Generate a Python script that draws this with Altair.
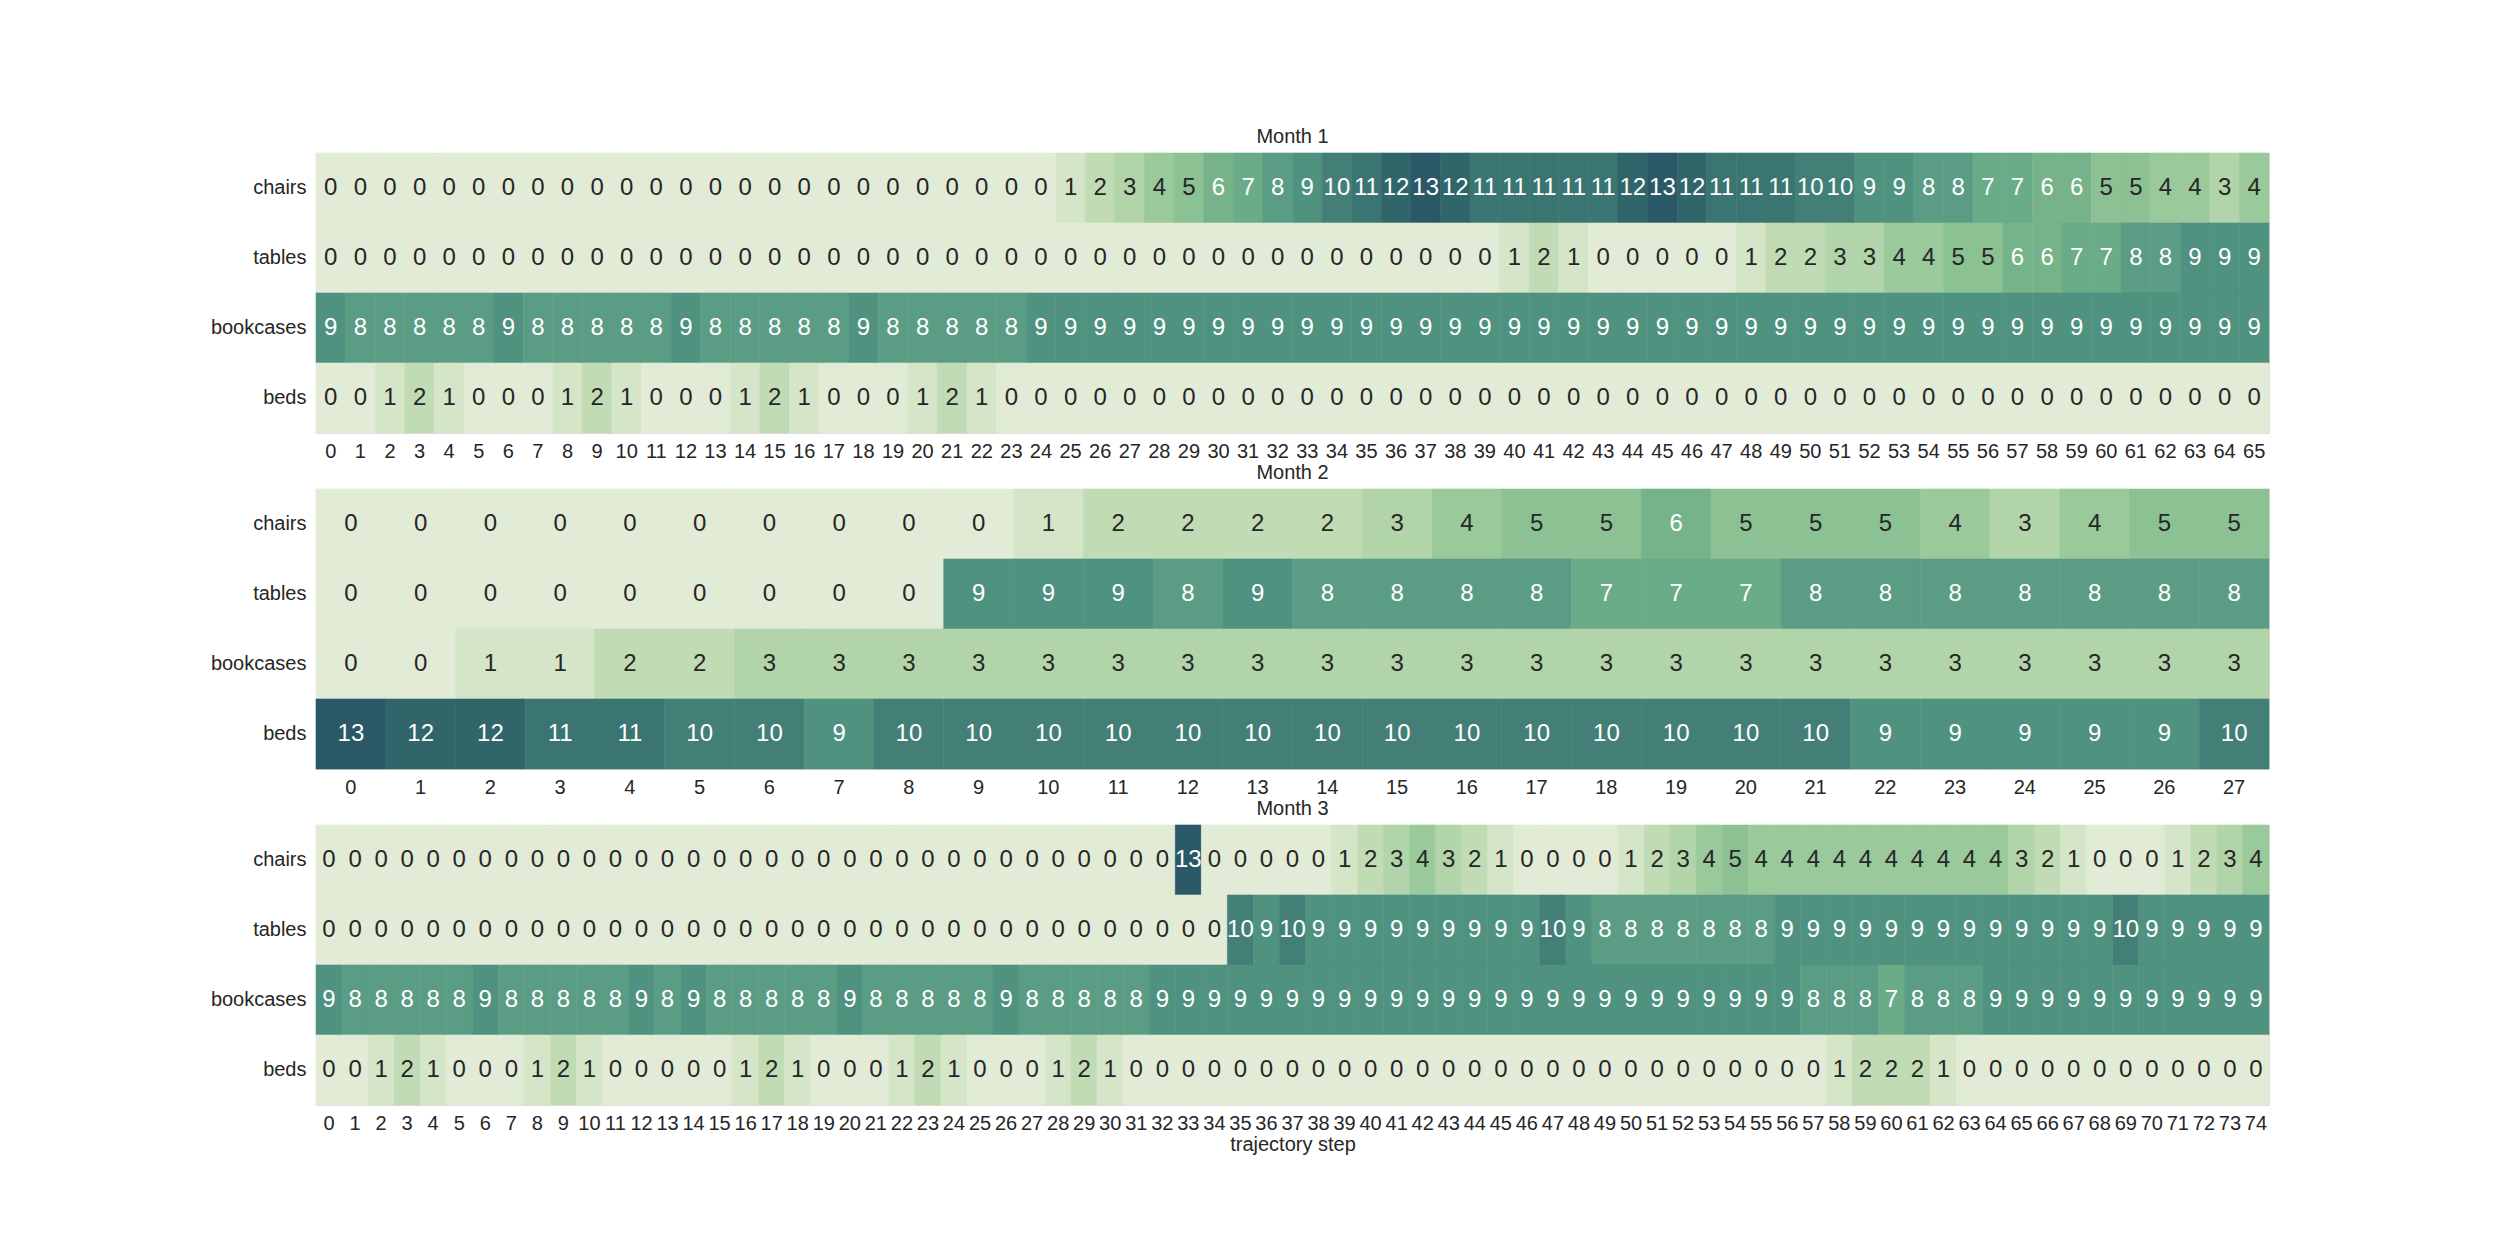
import altair as alt
import pandas as pd

items = ["chairs", "tables", "bookcases", "beds"]
months = ["Month 1", "Month 2", "Month 3"]

# ---------------- Month 1 (steps 0..65) ----------------
m1_chairs = [0, 0, 0, 0, 0, 0, 0, 0, 0, 0,
             0, 0, 0, 0, 0, 0, 0, 0, 0, 0,
             0, 0, 0, 0, 0, 1, 2, 3, 4, 5,
             6, 7, 8, 9, 10, 11, 12, 13, 12, 11,
             11, 11, 11, 11, 12, 13, 12, 11, 11, 11,
             10, 10, 9, 9, 8, 8, 7, 7, 6, 6,
             5, 5, 4, 4, 3, 4]
m1_tables = [0, 0, 0, 0, 0, 0, 0, 0, 0, 0,
             0, 0, 0, 0, 0, 0, 0, 0, 0, 0,
             0, 0, 0, 0, 0, 0, 0, 0, 0, 0,
             0, 0, 0, 0, 0, 0, 0, 0, 0, 0,
             1, 2, 1, 0, 0, 0, 0, 0, 1, 2,
             2, 3, 3, 4, 4, 5, 5, 6, 6, 7,
             7, 8, 8, 9, 9, 9]
m1_bookcases = [9, 8, 8, 8, 8, 8, 9, 8, 8, 8,
                8, 8, 9, 8, 8, 8, 8, 8, 9, 8,
                8, 8, 8, 8, 9, 9, 9, 9, 9, 9,
                9, 9, 9, 9, 9, 9, 9, 9, 9, 9,
                9, 9, 9, 9, 9, 9, 9, 9, 9, 9,
                9, 9, 9, 9, 9, 9, 9, 9, 9, 9,
                9, 9, 9, 9, 9, 9]
m1_beds = [0, 0, 1, 2, 1, 0, 0, 0, 1, 2,
           1, 0, 0, 0, 1, 2, 1, 0, 0, 0,
           1, 2, 1, 0, 0, 0, 0, 0, 0, 0,
           0, 0, 0, 0, 0, 0, 0, 0, 0, 0,
           0, 0, 0, 0, 0, 0, 0, 0, 0, 0,
           0, 0, 0, 0, 0, 0, 0, 0, 0, 0,
           0, 0, 0, 0, 0, 0]

# ---------------- Month 2 (steps 0..27) ----------------
m2_chairs = [0, 0, 0, 0, 0, 0, 0, 0, 0, 0,
             1, 2, 2, 2, 2, 3, 4, 5, 5, 6,
             5, 5, 5, 4, 3, 4, 5, 5]
m2_tables = [0, 0, 0, 0, 0, 0, 0, 0, 0, 9,
             9, 9, 8, 9, 8, 8, 8, 8, 7, 7,
             7, 8, 8, 8, 8, 8, 8, 8]
m2_bookcases = [0, 0, 1, 1, 2, 2, 3, 3, 3, 3,
                3, 3, 3, 3, 3, 3, 3, 3, 3, 3,
                3, 3, 3, 3, 3, 3, 3, 3]
m2_beds = [13, 12, 12, 11, 11, 10, 10, 9, 10, 10,
           10, 10, 10, 10, 10, 10, 10, 10, 10, 10,
           10, 10, 9, 9, 9, 9, 9, 10]

# ---------------- Month 3 (steps 0..74) ----------------
m3_chairs = [0, 0, 0, 0, 0, 0, 0, 0, 0, 0,
             0, 0, 0, 0, 0, 0, 0, 0, 0, 0,
             0, 0, 0, 0, 0, 0, 0, 0, 0, 0,
             0, 0, 0, 13, 0, 0, 0, 0, 0, 1,
             2, 3, 4, 3, 2, 1, 0, 0, 0, 0,
             1, 2, 3, 4, 5, 4, 4, 4, 4, 4,
             4, 4, 4, 4, 4, 3, 2, 1, 0, 0,
             0, 1, 2, 3, 4]
m3_tables = [0, 0, 0, 0, 0, 0, 0, 0, 0, 0,
             0, 0, 0, 0, 0, 0, 0, 0, 0, 0,
             0, 0, 0, 0, 0, 0, 0, 0, 0, 0,
             0, 0, 0, 0, 0, 10, 9, 10, 9, 9,
             9, 9, 9, 9, 9, 9, 9, 10, 9, 8,
             8, 8, 8, 8, 8, 8, 9, 9, 9, 9,
             9, 9, 9, 9, 9, 9, 9, 9, 9, 10,
             9, 9, 9, 9, 9]
m3_bookcases = [9, 8, 8, 8, 8, 8, 9, 8, 8, 8,
                8, 8, 9, 8, 9, 8, 8, 8, 8, 8,
                9, 8, 8, 8, 8, 8, 9, 8, 8, 8,
                8, 8, 9, 9, 9, 9, 9, 9, 9, 9,
                9, 9, 9, 9, 9, 9, 9, 9, 9, 9,
                9, 9, 9, 9, 9, 9, 9, 8, 8, 8,
                7, 8, 8, 8, 9, 9, 9, 9, 9, 9,
                9, 9, 9, 9, 9]
m3_beds = [0, 0, 1, 2, 1, 0, 0, 0, 1, 2,
           1, 0, 0, 0, 0, 0, 1, 2, 1, 0,
           0, 0, 1, 2, 1, 0, 0, 0, 1, 2,
           1, 0, 0, 0, 0, 0, 0, 0, 0, 0,
           0, 0, 0, 0, 0, 0, 0, 0, 0, 0,
           0, 0, 0, 0, 0, 0, 0, 0, 1, 2,
           2, 2, 1, 0, 0, 0, 0, 0, 0, 0,
           0, 0, 0, 0, 0]

month_data = {
    "Month 1": [m1_chairs, m1_tables, m1_bookcases, m1_beds],
    "Month 2": [m2_chairs, m2_tables, m2_bookcases, m2_beds],
    "Month 3": [m3_chairs, m3_tables, m3_bookcases, m3_beds],
}

# colour ramp (value 0 .. 13)
color_domain = list(range(14))
color_range = ["#e2ebd6", "#d5e5c8", "#c1dbb4", "#b2d4aa", "#9ac99b", "#8cc193",
               "#76b38b", "#6aab88", "#5b9d84", "#4f927f", "#437f77", "#3b7571",
               "#306569", "#2a5866"]

FONT = "Liberation Sans"
PANEL_W = 1953
PANEL_H = 280


def panel(month, last):
    rows = []
    for item, vals in zip(items, month_data[month]):
        for step, v in enumerate(vals):
            rows.append({"step": step, "item": item, "value": v})
    df = pd.DataFrame(rows)
    xaxis = alt.Axis(labelAngle=0, labelOverlap=False, ticks=False, domain=False,
                     labelPadding=8, labelFontSize=20, labelColor="#262626",
                     titleFontSize=20, titleFontWeight="normal", titleColor="#262626",
                     titlePadding=1, labelFont=FONT, titleFont=FONT)
    x = alt.X("step:O", axis=xaxis,
              title="trajectory step" if last else None,
              scale=alt.Scale(paddingInner=0, paddingOuter=0))
    y = alt.Y("item:N", sort=items, title=None,
              axis=alt.Axis(ticks=False, domain=False, labelPadding=10, labelFontSize=20,
                            labelColor="#262626", labelFont=FONT),
              scale=alt.Scale(paddingInner=0, paddingOuter=0))
    base = alt.Chart(df).encode(x=x, y=y)
    cscale = alt.Scale(domain=color_domain, range=color_range, interpolate="rgb")
    rect = base.mark_rect(strokeWidth=0.6).encode(
        color=alt.Color("value:Q", legend=None, scale=cscale),
        stroke=alt.Stroke("value:Q", legend=None, scale=cscale),
    )
    text = base.mark_text(fontSize=24, font=FONT, baseline="middle").encode(
        text="value:Q",
        color=alt.condition(alt.datum.value >= 6, alt.value("white"), alt.value("#262626")),
    )
    return (rect + text).properties(
        width=PANEL_W, height=PANEL_H,
        title=alt.TitleParams(month, fontSize=20, fontWeight="normal", font=FONT,
                              color="#262626", offset=6),
    )


chart = alt.vconcat(
    panel("Month 1", False), panel("Month 2", False), panel("Month 3", True),
    spacing=0,
).properties(
    padding={"left": 209, "top": 126, "right": 10, "bottom": 10}
).configure_view(stroke=None).configure(background="white")

chart.save("out.html", embed_options={"renderer": "svg", "actions": False})
